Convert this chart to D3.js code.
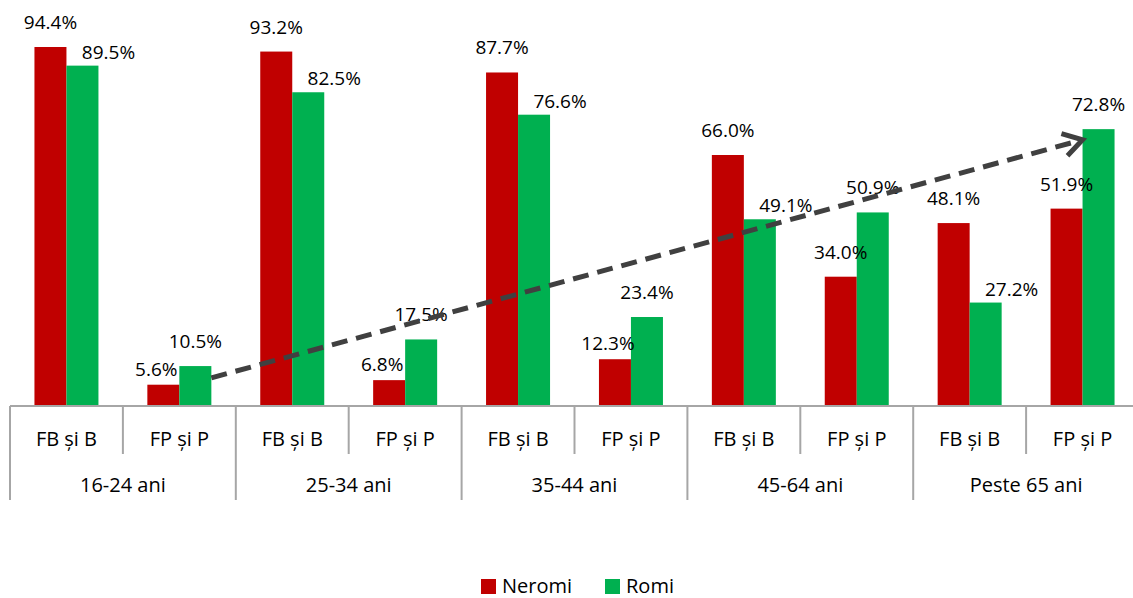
<!DOCTYPE html>
<html>
<head>
<meta charset="utf-8">
<script src="https://cdn.jsdelivr.net/npm/d3@7"></script>
<style>
  html, body { margin: 0; padding: 0; background: #fff; }
  svg { display: block; font-family: "Open Sans", sans-serif; }
</style>
</head>
<body>
<svg id="chart"></svg>
<script>
const width = 1133;
const height = 598;

// data
const groups = ["16-24 ani", "25-34 ani", "35-44 ani", "45-64 ani", "Peste 65 ani"];
const subcats = ["FB și B", "FP și P"];
const series = ["Neromi", "Romi"];
const neromi = [94.4, 5.6, 93.2, 6.8, 87.7, 12.3, 66.0, 34.0, 48.1, 51.9];
const romi = [89.5, 10.5, 82.5, 17.5, 76.6, 23.4, 49.1, 50.9, 27.2, 72.8];
const colors = ["#C00000", "#00B050"];
// trend arrow: [category index, value] start and end
const arrowFrom = [1, 7.4];
const arrowTo = [9, 70];

const cats = [];
groups.forEach(g => subcats.forEach(s => cats.push(g + "|" + s)));
const rows = cats.map((c, i) => ({ cat: c, values: [neromi[i], romi[i]] }));

const svg = d3.select("#chart").attr("width", width).attr("height", height);

const baseY = 406;
const x0 = d3.scaleBand().domain(cats).range([10, 1139]).padding(0);
const bw = x0.bandwidth();
const x1 = d3.scaleBand().domain(series).range([bw / 2 - 32, bw / 2 + 32]);
const y = d3.scaleLinear().domain([0, 94.4]).range([baseY, 47]);

// bars
const bars = svg.append("g").selectAll("g")
  .data(rows)
  .enter()
  .append("g")
  .attr("transform", d => `translate(${x0(d.cat)},0)`);

bars.selectAll("rect")
  .data(d => d.values.map((v, i) => ({ key: series[i], v: v, i: i })))
  .enter()
  .append("rect")
  .attr("x", d => x1(d.key))
  .attr("y", d => y(d.v))
  .attr("width", x1.bandwidth())
  .attr("height", d => baseY - y(d.v))
  .attr("fill", d => colors[d.i]);

// value labels (Excel-like nudges where bars overlap)
bars.each(function(d) {
  const [r, g] = d.values;
  d.values.forEach((v, i) => {
    let dx = 0, dy = -18;
    if (i === 1 && g < r) { dx = 26; dy = -7; }
    if (i === 0 && r < g && r < 15) { dx = -7; dy = -9; }
    d3.select(this).append("text")
      .attr("x", x1(series[i]) + x1.bandwidth() / 2 + dx)
      .attr("y", y(v) + dy)
      .attr("text-anchor", "middle")
      .style("font-size", "19px")
      .style("fill", "#000")
      .text(v.toFixed(1) + "%");
  });
});

// trend arrow
const ax1 = x0(cats[arrowFrom[0]]) + x1("Romi") + x1.bandwidth();
const ay1 = y(arrowFrom[1]);
const ax2 = x0(cats[arrowTo[0]]) + x1("Romi");
const ay2 = y(arrowTo[1]);
const ang = Math.atan2(ay2 - ay1, ax2 - ax1);
svg.append("line")
  .attr("x1", ax1).attr("y1", ay1)
  .attr("x2", ax2 - 4 * Math.cos(ang)).attr("y2", ay2 - 4 * Math.sin(ang))
  .attr("stroke", "#404040")
  .attr("stroke-width", 5)
  .attr("stroke-dasharray", "16 9");
const headLen = 22, headAng = 0.55;
svg.append("path")
  .attr("d", d3.line()([
    [ax2 - headLen * Math.cos(ang - headAng), ay2 - headLen * Math.sin(ang - headAng)],
    [ax2, ay2],
    [ax2 - headLen * Math.cos(ang + headAng), ay2 - headLen * Math.sin(ang + headAng)]
  ]))
  .attr("fill", "none")
  .attr("stroke", "#404040")
  .attr("stroke-width", 5)
  .attr("stroke-linejoin", "miter");

// axis
const axis = svg.append("g").attr("stroke", "#a6a6a6").attr("stroke-width", 2);
axis.append("line").attr("x1", 10).attr("x2", 1139).attr("y1", baseY).attr("y2", baseY);
d3.range(cats.length + 1).forEach(i => {
  const xx = i < cats.length ? x0(cats[i]) : x0(cats[i - 1]) + bw;
  axis.append("line")
    .attr("x1", xx).attr("x2", xx)
    .attr("y1", baseY).attr("y2", i % 2 === 0 ? 500 : 454);
});

svg.append("g").selectAll("text")
  .data(cats)
  .enter()
  .append("text")
  .attr("x", d => x0(d) + bw / 2)
  .attr("y", 446)
  .attr("text-anchor", "middle")
  .style("font-size", "20px")
  .text(d => d.split("|")[1]);

svg.append("g").selectAll("text")
  .data(groups)
  .enter()
  .append("text")
  .attr("x", d => x0(d + "|" + subcats[0]) + bw)
  .attr("y", 492)
  .attr("text-anchor", "middle")
  .style("font-size", "20px")
  .text(d => d);

// legend
const legend = svg.append("g");
const legX = [481, 605];
series.forEach((s, i) => {
  legend.append("rect")
    .attr("x", legX[i]).attr("y", 579)
    .attr("width", 15).attr("height", 15)
    .attr("fill", colors[i]);
  legend.append("text")
    .attr("x", legX[i] + 21).attr("y", 593)
    .style("font-size", "20px")
    .text(s);
});
</script>
</body>
</html>
